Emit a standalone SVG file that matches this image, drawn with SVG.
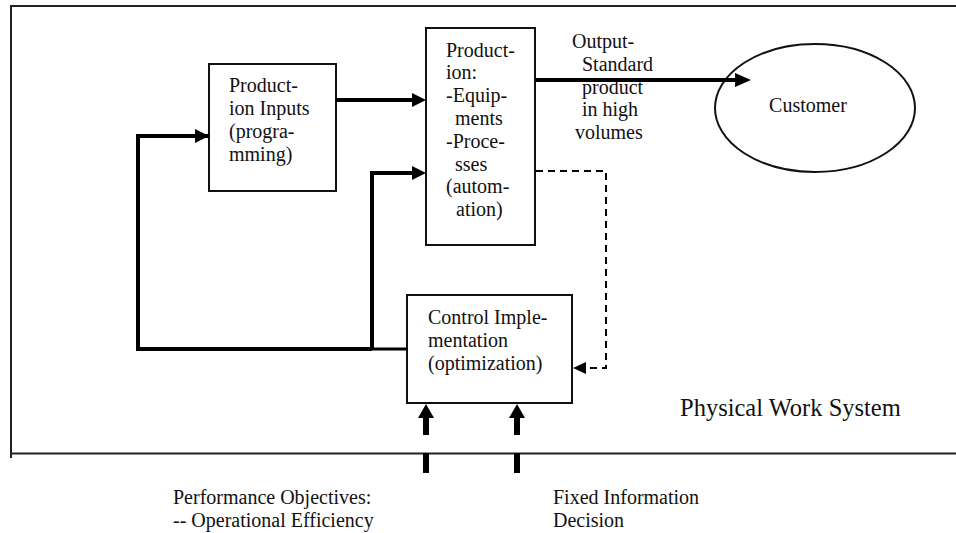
<svg xmlns="http://www.w3.org/2000/svg" width="956" height="533" viewBox="0 0 956 533">
  <style>
    text { font-family: 'Liberation Serif', 'Times New Roman', Times, serif; font-size: 20px; fill: #111; }
    .big { font-size: 24.5px; }
    .box { fill: #fff; stroke: #111; stroke-width: 2; }
    .frame { fill: none; stroke: #222; stroke-width: 2; }
    .thick { fill: none; stroke: #000; stroke-width: 4; }
    .mid { fill: none; stroke: #000; stroke-width: 3; }
    .dash { fill: none; stroke: #000; stroke-width: 2; stroke-dasharray: 7 5; }
    .head { fill: #000; }
  </style>

  <!-- system boundary -->
  <g id="frame">
    <path class="frame" d="M11,458 V6 H956"/>
    <path class="frame" d="M11,453.5 H956"/>
  </g>

  <g id="production-inputs">
    <rect class="box" x="209" y="64" width="127" height="127"/>
    <text x="229" y="92">Product-</text>
    <text x="229" y="115">ion Inputs</text>
    <text x="229" y="138">(progra-</text>
    <text x="229" y="161">mming)</text>
  </g>

  <g id="production">
    <rect class="box" x="426" y="28" width="109" height="217"/>
    <text x="446" y="57">Product-</text>
    <text x="446" y="79">ion:</text>
    <text x="446" y="102">-Equip-</text>
    <text x="455" y="125">ments</text>
    <text x="446" y="148">-Proce-</text>
    <text x="455" y="171">sses</text>
    <text x="446" y="193">(autom-</text>
    <text x="456" y="216">ation)</text>
  </g>

  <g id="output-label">
    <text x="572" y="48">Output-</text>
    <text x="582" y="71">Standard</text>
    <text x="582" y="94">product</text>
    <text x="582" y="116">in high</text>
    <text x="575" y="139">volumes</text>
  </g>

  <g id="customer">
    <ellipse class="box" cx="815" cy="108" rx="100" ry="64"/>
    <text x="808" y="112" text-anchor="middle">Customer</text>
  </g>

  <g id="control-implementation">
    <rect class="box" x="407" y="295" width="165" height="108"/>
    <text x="428" y="324">Control Imple-</text>
    <text x="428" y="347">mentation</text>
    <text x="428" y="370">(optimization)</text>
  </g>

  <g id="system-label">
    <text class="big" x="680" y="416">Physical Work System</text>
  </g>

  <g id="performance-objectives">
    <text x="173" y="504">Performance Objectives:</text>
    <text x="173" y="527">-- Operational Efficiency</text>
  </g>

  <g id="fixed-information">
    <text x="553" y="504">Fixed Information</text>
    <text x="553" y="527">Decision</text>
  </g>

  <!-- connectors -->
  <g id="connectors">
    <!-- inputs to production -->
    <path class="thick" d="M336,100 H413"/>
    <polygon class="head" points="426,100 412,93 412,107"/>
    <!-- outer feedback loop to inputs -->
    <path class="thick" d="M209,136 H138 V349 H372"/>
    <polygon class="head" points="209,136 195,129 195,143"/>
    <!-- inner feedback loop to production -->
    <path class="thick" d="M372,349 V173 H413"/>
    <polygon class="head" points="426,173 412,166 412,180"/>
    <path class="mid" d="M372,349 H407"/>
    <!-- output to customer -->
    <path class="thick" d="M536,80 H738"/>
    <polygon class="head" points="751,80 735,73 735,87"/>
    <!-- dashed information feedback -->
    <path class="dash" d="M536,171 H606 V368 H584"/>
    <polygon class="head" points="573,368 586,362 586,374"/>
    <!-- external inputs into control -->
    <path class="head" d="M426,404 L418,418 L434,418 Z"/>
    <rect class="head" x="423" y="417" width="6" height="18"/>
    <rect class="head" x="423" y="453" width="6" height="20"/>
    <path class="head" d="M517,404 L509,418 L525,418 Z"/>
    <rect class="head" x="514" y="417" width="6" height="18"/>
    <rect class="head" x="514" y="453" width="6" height="20"/>
  </g>
</svg>
